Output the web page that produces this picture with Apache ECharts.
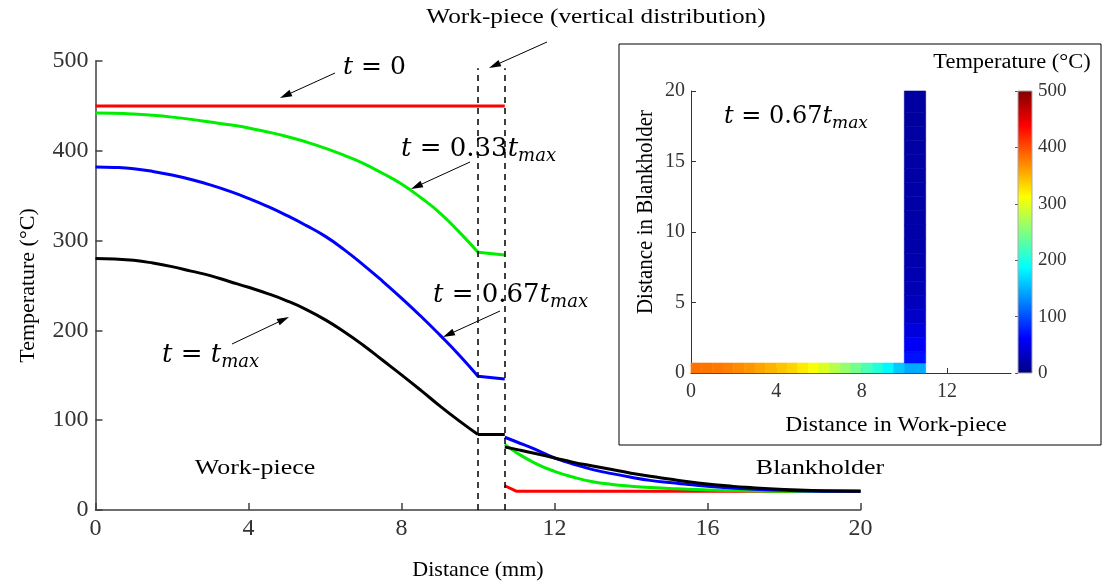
<!DOCTYPE html>
<html>
<head>
<meta charset="utf-8">
<script src="https://cdn.jsdelivr.net/npm/echarts@6/dist/echarts.min.js"></script>
<style>
html,body{margin:0;padding:0;background:#fff;}
#main{width:1109px;height:586px;}
</style>
</head>
<body>
<div id="main"></div>
<script>
// ---------- DATA ----------
// work-piece (horizontal distribution), distance in mm
const xWork = [0, 0.5, 1, 1.5, 2, 2.5, 3, 3.5, 4, 4.5, 5, 5.5, 6, 6.5, 7, 7.5, 8, 8.5, 9, 9.5, 10];
const redWork   = [450, 450, 450, 450, 450, 450, 450, 450, 450, 450, 450, 450, 450, 450, 450, 450, 450, 450, 450, 450, 450];
const greenWork = [442, 441.8, 441, 439.5, 437.5, 435, 432, 429, 425.5, 421, 416, 410, 403, 395, 386, 375, 363, 348, 331, 310, 287];
const blueWork  = [382, 381.5, 380, 377, 373, 368, 362, 355, 347, 338, 328, 317, 305, 290, 273, 255, 236, 216, 195, 173, 149];
const blackWork = [280, 279.5, 278, 275, 271, 266, 261, 254.5, 248, 241, 233, 223.5, 212, 198.5, 183.5, 167, 150.5, 133.5, 116, 99.5, 84];
// work-piece (vertical distribution)
const xVert = [10, 10.7];
const redVert   = [450, 450];
const greenVert = [287, 284];
const blueVert  = [149, 146];
const blackVert = [84, 84];
// blankholder
const xBlank = [10.7, 11, 11.5, 12, 12.5, 13, 13.5, 14, 14.5, 15, 15.5, 16, 16.5, 17, 18, 19, 20];
const redBlank   = [27, 21, 21, 21, 21, 21, 21, 21, 21, 21, 21, 21, 21, 21, 21, 21, 21];
const greenBlank = [73, 64, 52, 43, 36.5, 31.5, 28.5, 26.5, 25, 24, 23, 22.3, 21.8, 21.5, 21, 21, 21];
const blueBlank  = [81, 76, 67.5, 58, 51, 45, 40.5, 36.5, 33, 30.5, 28.5, 26.5, 25, 23.7, 22, 21, 21];
const blackBlank = [70, 67.5, 63, 58, 53, 49, 45, 41, 37.5, 34.5, 31.5, 29, 27, 25.2, 22.7, 21.5, 21];
// dashed boundaries of the vertical work-piece section
const dashX = [10, 10.7];
const dashTop = 492;

// inset (t = 0.67 t_max) temperature field cells
const insetX0 = [0,0.5,1,1.5,2,2.5,3,3.5,4,4.5,5,5.5,6,6.5,7,7.5,8,8.5,9,9.5,10,
                 10,10,10,10,10,10,10,10,10,10,10,10,10,10,10,10,10,10,10];
const insetX1 = [0.5,1,1.5,2,2.5,3,3.5,4,4.5,5,5.5,6,6.5,7,7.5,8,8.5,9,9.5,10,11,
                 11,11,11,11,11,11,11,11,11,11,11,11,11,11,11,11,11,11,11];
const insetY0 = [0,0,0,0,0,0,0,0,0,0,0,0,0,0,0,0,0,0,0,0,0,
                 0.71,1.5,2.5,3.5,4.5,5.5,6.5,7.5,8.5,9.5,10.5,11.5,12.5,13.5,14.5,15.5,16.5,17.5,18.5];
const insetY1 = [0.71,0.71,0.71,0.71,0.71,0.71,0.71,0.71,0.71,0.71,0.71,0.71,0.71,0.71,0.71,0.71,0.71,0.71,0.71,0.71,0.71,
                 1.5,2.5,3.5,4.5,5.5,6.5,7.5,8.5,9.5,10.5,11.5,12.5,13.5,14.5,15.5,16.5,17.5,18.5,20];
const insetT  = [382,381,379,375,369,364,357,350,342,333,322,310,295,277,260,243,224,205,185,162,146,
                 70,58,46,36,30,26,24,22,21,20,20,19,19,18,18,17,17,16,16];
const colorbarTicks = [0, 100, 200, 300, 400, 500];

// ---------- CHART ----------
const jet = ['#000080','#0000ff','#0080ff','#00ffff','#80ff80','#ffff00','#ff8000','#ff0000','#800000'];
const SERIF = 'Liberation Serif';
const MATH = 'DejaVu Serif';
const chart = echarts.init(document.getElementById('main'), null, {renderer: 'canvas'});

function pairs(xs, ys) { return xs.map((x, i) => [x, ys[i]]); }
function curve(name, color, xs, ys, smooth) {
  return {
    type: 'line', name: name, xAxisIndex: 0, yAxisIndex: 0,
    data: pairs(xs, ys), showSymbol: false, symbol: 'none',
    smooth: smooth ? 0.5 : false,
    lineStyle: {color: color, width: 3}, itemStyle: {color: color},
    silent: true, z: 3
  };
}
const C = {red: '#ff0000', green: '#00ee00', blue: '#0000ff', black: '#000000'};
const series = [
  curve('t=0', C.red, xWork, redWork, false),
  curve('t=0', C.red, xVert, redVert, false),
  curve('t=0', C.red, xBlank, redBlank, false),
  curve('t=0.33', C.green, xWork, greenWork, true),
  curve('t=0.33', C.green, xVert, greenVert, false),
  curve('t=0.33', C.green, xBlank, greenBlank, true),
  curve('t=0.67', C.blue, xWork, blueWork, true),
  curve('t=0.67', C.blue, xVert, blueVert, false),
  curve('t=0.67', C.blue, xBlank, blueBlank, true),
  curve('tmax', C.black, xWork, blackWork, true),
  curve('tmax', C.black, xVert, blackVert, false),
  curve('tmax', C.black, xBlank, blackBlank, true)
];
series[0].markLine = {
  silent: true, symbol: 'none', label: {show: false},
  lineStyle: {color: '#000', type: [6, 5], width: 1.5},
  data: dashX.map(x => [{coord: [x, 0]}, {coord: [x, dashTop]}])
};
const insetData = insetT.map((t, i) => [insetX0[i], insetX1[i], insetY0[i], insetY1[i], t]);
const insetIndex = series.length;
series.push({
  type: 'custom', xAxisIndex: 1, yAxisIndex: 1, silent: true,
  dimensions: ['x0', 'x1', 'y0', 'y1', 'T'],
  encode: {x: [0, 1], y: [2, 3]},
  data: insetData,
  renderItem: function (params, api) {
    const p0 = api.coord([api.value(0), api.value(2)]);
    const p1 = api.coord([api.value(1), api.value(3)]);
    const col = api.visual('color');
    return {type: 'rect', shape: {x: p0[0], y: p1[1], width: p1[0] - p0[0], height: p0[1] - p1[1]},
            style: {fill: col, stroke: col, lineWidth: 0.6}};
  }
});
series.push({
  type: 'custom', xAxisIndex: 2, yAxisIndex: 2, silent: true,
  data: [[0, colorbarTicks[0]]],
  renderItem: function (params, api) {
    const a = api.coord([0, colorbarTicks[0]]);
    const b = api.coord([1, colorbarTicks[colorbarTicks.length - 1]]);
    return {type: 'rect', shape: {x: a[0], y: b[1], width: b[0] - a[0], height: a[1] - b[1]},
      style: {fill: new echarts.graphic.LinearGradient(0, 1, 0, 0,
        jet.map((c, i) => ({offset: i / (jet.length - 1), color: c}))), stroke: '#aaa', lineWidth: 1}};
  }
});

const axisCol = '#404040';
const tickLbl = {fontFamily: SERIF, color: '#333'};

function arrow(x1, y1, x2, y2) {
  const dx = x2 - x1, dy = y2 - y1, L = Math.sqrt(dx * dx + dy * dy);
  const ux = dx / L, uy = dy / L, hl = 12, hw = 3.5;
  const bx = x2 - ux * hl, by = y2 - uy * hl;
  return [
    {type: 'line', z: 100, shape: {x1: x1, y1: y1, x2: bx, y2: by}, style: {stroke: '#000', lineWidth: 1}},
    {type: 'polygon', z: 100, shape: {points: [[x2, y2], [bx - uy * hw, by + ux * hw], [bx + uy * hw, by - ux * hw]]},
     style: {fill: '#000'}}
  ];
}
function mathText(x, y, value, fs) {
  const txt = value === null ? '{t|t}{r| = }{t|t}{s|max}' : (value === '0' ? '{t|t}{r| = 0}' : '{t|t}{r| = ' + value + '}{t|t}{s|max}');
  return {type: 'text', z: 100, x: x, y: y, style: {
    text: txt, textAlign: 'left', textVerticalAlign: 'middle', fill: '#000',
    rich: {
      t: {fontFamily: MATH, fontStyle: 'italic', fontSize: fs, fill: '#000'},
      r: {fontFamily: MATH, fontSize: fs, fill: '#000'},
      s: {fontFamily: MATH, fontStyle: 'italic', fontSize: Math.round(fs * 0.7), fill: '#000', padding: [Math.round(fs * 0.55), 0, 0, 0]}
    }}};
}
function plainText(x, y, str, fs, rot, sx) {
  return {type: 'text', z: 100, x: x, y: y, rotation: rot || 0,
    scaleX: rot ? 1 : (sx || 1.15), scaleY: rot ? (sx || 1.15) : 1,
    style: {text: str, font: fs + 'px "' + SERIF + '"', fill: '#000', textAlign: 'center', textVerticalAlign: 'middle'}};
}

const graphics = [].concat(
  [{type: 'rect', z: -1, shape: {x: 619, y: 44, width: 482, height: 401}, style: {fill: '#fff', stroke: '#000', lineWidth: 1}}],
  [plainText(596, 17, 'Work-piece (vertical distribution)', 22, 0, 1.15)],
  arrow(547, 42, 489, 68),
  [mathText(343, 67, '0', 25)],
  arrow(335, 73, 280, 98),
  [mathText(401, 149, '0.33', 26)],
  arrow(470, 162, 411, 189),
  [mathText(433, 295, '0.67', 26)],
  arrow(500, 311, 443, 337),
  [mathText(162, 355, null, 26)],
  arrow(232, 344, 289, 317),
  [plainText(255, 468, 'Work-piece', 22, 0, 1.18), plainText(820, 468, 'Blankholder', 22, 0, 1.18)],
  [mathText(724, 117, '0.67', 24)],
  [plainText(1012, 63, 'Temperature (°C)', 20, 0, 1.12)],
  [plainText(646, 212, 'Distance in Blankholder', 21, Math.PI / 2, 1.1)],
  [plainText(896, 425, 'Distance in Work-piece', 21, 0, 1.12)]
);

chart.setOption({
  animation: false,
  backgroundColor: '#fff',
  grid: [
    {left: 95.5, top: 61, width: 765, height: 452, containLabel: false},
    {left: 691, top: 91, width: 320, height: 282, containLabel: false},
    {left: 1018, top: 91, width: 14, height: 282, containLabel: false}
  ],
  xAxis: [
    {gridIndex: 0, type: 'value', min: 0, max: 20, interval: 4,
     axisLine: {lineStyle: {color: axisCol, width: 1.5}},
     axisTick: {inside: true, length: 7, lineStyle: {color: axisCol, width: 1.5}},
     axisLabel: Object.assign({fontSize: 24, margin: 7}, tickLbl), splitLine: {show: false},
     name: 'Distance (mm)', nameLocation: 'middle', nameGap: 49,
     nameTextStyle: {fontFamily: SERIF, fontSize: 22, color: '#000'}},
    {gridIndex: 1, type: 'value', min: 0, max: 15, interval: 4,
     axisLine: {lineStyle: {color: '#333', width: 1}},
     axisTick: {inside: true, length: 5, customValues: [0, 4, 8, 12], lineStyle: {color: '#333'}},
     axisLabel: Object.assign({fontSize: 20, margin: 9, customValues: [0, 4, 8, 12]}, tickLbl), splitLine: {show: false}},
    {gridIndex: 2, type: 'value', min: 0, max: 1, show: false}
  ],
  yAxis: [
    {gridIndex: 0, type: 'value', min: 0, max: 500, interval: 100,
     axisLine: {show: true, lineStyle: {color: axisCol, width: 1.5}},
     axisTick: {show: true, inside: true, length: 7, lineStyle: {color: axisCol, width: 1.5}},
     axisLabel: Object.assign({fontSize: 24, margin: 7}, tickLbl), splitLine: {show: false},
     name: 'Temperature (°C)', nameLocation: 'middle', nameGap: 56,
     nameTextStyle: {fontFamily: SERIF, fontSize: 22, color: '#000'}},
    {gridIndex: 1, type: 'value', min: 0, max: 20, interval: 5,
     axisLine: {show: true, lineStyle: {color: '#333', width: 1}},
     axisTick: {show: true, inside: true, length: 5, lineStyle: {color: '#333'}},
     axisLabel: Object.assign({fontSize: 20, margin: 6}, tickLbl), splitLine: {show: false}},
    {gridIndex: 2, type: 'value', position: 'right', min: 0, max: 500, interval: 100,
     axisLine: {show: false},
     axisTick: {show: true, inside: true, length: 3, lineStyle: {color: '#555'}},
     axisLabel: Object.assign({fontSize: 19, margin: 6}, tickLbl), splitLine: {show: false}}
  ],
  visualMap: {type: 'continuous', show: false, min: 0, max: 500, dimension: 4,
              seriesIndex: insetIndex, inRange: {color: jet}},
  graphic: graphics,
  series: series
});
</script>
</body>
</html>
